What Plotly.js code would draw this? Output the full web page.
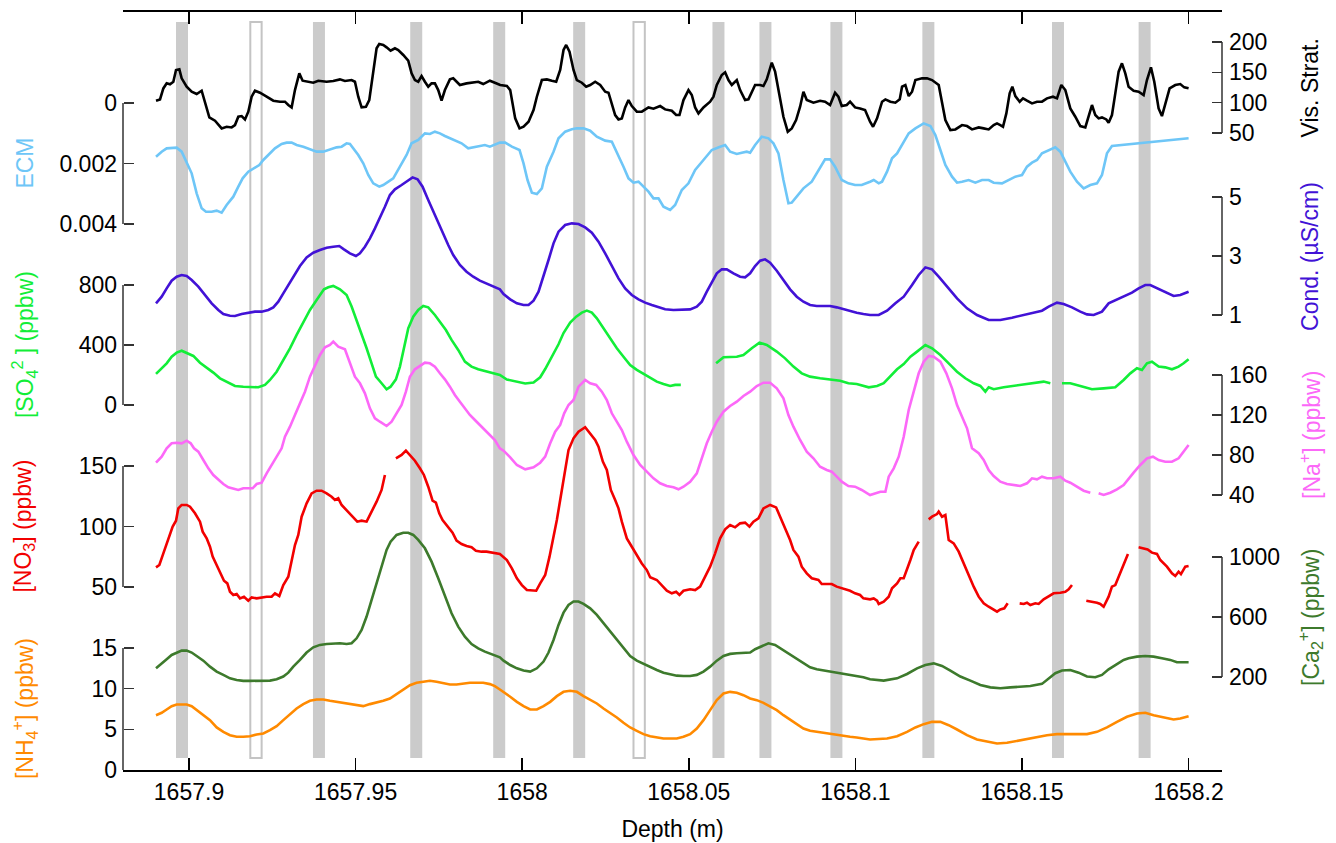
<!DOCTYPE html>
<html>
<head>
<meta charset="utf-8">
<script src="https://cdn.plot.ly/plotly-3.0.1.min.js"></script>
<style>
  html, body { margin: 0; padding: 0; background: #fff; }
  #chart { width: 1336px; height: 843px; }
</style>
</head>
<body>
<div id="chart"></div>
<script>
// ---------------------------------------------------------------------------
// Ice core section 1657.89 - 1658.20 m : stacked records, one axis per record
// every record is a list of [depth (m), value] pairs, null = no data
// ---------------------------------------------------------------------------
var depthTicks = [1657.9, 1657.95, 1658, 1658.05, 1658.1, 1658.15, 1658.2];
var depthTickText = ['1657.9', '1657.95', '1658', '1658.05', '1658.1', '1658.15', '1658.2'];

// annual layer picks (grey bands) and the two uncertain ones (open bands)
var layerDepths = [1657.8979, 1657.9390, 1657.9682, 1657.9931, 1658.0171, 1658.0589,
                   1658.0730, 1658.0943, 1658.1219, 1658.1608, 1658.1868];
var uncertainDepths = [1657.9201, 1658.0351];

var visStrat = [[1657.8901,103.2],[1657.8913,105.4],[1657.8923,123.5],[1657.8933,131.8],[1657.8943,130.2],[1657.8953,134.5],[1657.8961,153.8],[1657.8971,154.9],[1657.8978,140.1],[1657.8993,126.3],[1657.9008,118.1],[1657.9023,114.2],[1657.9038,119.7],[1657.9048,101.6],[1657.9061,75.7],[1657.9078,70.2],[1657.9098,57.6],[1657.9113,60.3],[1657.9128,59.2],[1657.9138,63.1],[1657.9148,76.8],[1657.9158,77.9],[1657.9168,72.4],[1657.9178,85.1],[1657.9188,109.8],[1657.9198,119.7],[1657.9213,116.4],[1657.9233,109.8],[1657.9253,103.2],[1657.9273,101.6],[1657.9288,101.6],[1657.9298,96.1],[1657.9308,92.2],[1657.9318,120.8],[1657.9331,148.3],[1657.9341,136.2],[1657.9358,134.5],[1657.9373,132.9],[1657.9388,136.2],[1657.9413,134.5],[1657.9433,135.7],[1657.9453,138.4],[1657.9468,135.7],[1657.9488,137.3],[1657.9498,134.5],[1657.9508,109.8],[1657.9518,92.2],[1657.9531,93.3],[1657.9541,104.3],[1657.9553,153.8],[1657.9563,189.6],[1657.9571,196.7],[1657.9583,195.1],[1657.9593,191.2],[1657.9605,185.7],[1657.9618,189.6],[1657.9628,186.8],[1657.9643,178.6],[1657.9658,169.2],[1657.9668,148.3],[1657.9678,137.3],[1657.9688,134.5],[1657.9698,143.9],[1657.9708,134.5],[1657.9718,126.3],[1657.9728,131.8],[1657.9738,131.8],[1657.9748,120.8],[1657.9758,103.2],[1657.9768,120.8],[1657.9783,138.4],[1657.9793,140.1],[1657.9803,134.5],[1657.9813,129.1],[1657.9833,131.8],[1657.9853,133.5],[1657.9868,134.5],[1657.9883,130.7],[1657.9903,136.2],[1657.9918,132.9],
  [1657.9934,129.1],[1657.9954,127.4],[1657.9964,120.8],[1657.9979,74.1],[1657.9992,57.6],[1658.0004,60.3],[1658.0019,68.6],[1658.0034,87.8],[1658.0044,109.8],[1658.0059,137.3],[1658.0074,138.4],[1658.0089,136.2],[1658.0102,134.5],[1658.0114,153.8],[1658.0124,186.8],[1658.0132,195.1],[1658.0142,184.1],[1658.0154,153.8],[1658.0164,137.3],[1658.0179,132.9],[1658.0192,126.3],[1658.0204,129.1],[1658.0219,134.5],[1658.0234,129.1],[1658.0249,118.1],[1658.0259,116.4],[1658.0269,98.8],[1658.0279,79.6],[1658.0289,72.4],[1658.0299,74.1],[1658.0309,92.2],[1658.0319,104.3],[1658.0329,94.4],[1658.0344,85.1],[1658.0359,85.1],[1658.0379,92.2],[1658.0394,90.0],[1658.0414,94.4],[1658.0429,88.9],[1658.0449,86.7],[1658.0462,79.6],[1658.0472,79.6],[1658.0484,104.3],[1658.0499,120.8],[1658.0509,112.6],[1658.0519,92.2],[1658.0529,82.3],[1658.0544,92.2],[1658.0564,101.6],[1658.0574,109.8],[1658.0584,129.1],[1658.0599,145.6],[1658.0609,150.0],[1658.0619,137.3],[1658.0629,129.1],[1658.0644,137.3],[1658.0654,120.8],[1658.0669,104.3],[1658.0679,105.4],[1658.0689,118.1],[1658.0699,129.1],[1658.0714,129.1],[1658.0724,127.4],[1658.0734,138.4],[1658.0749,165.9],[1658.0759,151.1],[1658.0769,120.8],[1658.0784,76.8],[1658.0797,52.1],[1658.0809,57.6],[1658.0822,71.3],[1658.0834,93.3],[1658.0844,118.1],[1658.0854,104.3],[1658.0874,99.9],[1658.0894,103.2],[1658.0909,101.6],[1658.0924,96.1],[1658.0939,116.4],[1658.0949,109.8],[1658.0959,94.4],[1658.0974,96.1],[1658.0984,101.6],[1658.0999,92.2],[1658.1014,90.5],[1658.1029,87.8],[1658.1044,68.6],
  [1658.1053,60.3],[1658.1065,74.1],[1658.1080,101.6],[1658.1090,105.4],[1658.1105,101.6],[1658.1120,99.9],[1658.1133,105.4],[1658.1140,126.3],[1658.1150,129.1],[1658.1160,110.9],[1658.1170,118.1],[1658.1180,137.3],[1658.1200,140.1],[1658.1215,140.1],[1658.1230,137.3],[1658.1250,129.1],[1658.1260,98.8],[1658.1270,71.3],[1658.1285,54.8],[1658.1300,55.9],[1658.1320,63.1],[1658.1335,61.4],[1658.1350,55.9],[1658.1370,59.2],[1658.1385,57.6],[1658.1400,55.9],[1658.1415,63.1],[1658.1425,65.8],[1658.1435,63.1],[1658.1443,60.3],[1658.1453,82.3],[1658.1463,115.3],[1658.1471,126.3],[1658.1480,110.9],[1658.1493,101.6],[1658.1503,107.1],[1658.1515,103.2],[1658.1530,98.8],[1658.1545,101.6],[1658.1560,101.6],[1658.1575,107.1],[1658.1593,109.8],[1658.1605,107.1],[1658.1618,129.1],[1658.1630,120.8],[1658.1645,90.5],[1658.1660,76.8],[1658.1675,61.4],[1658.1690,59.2],[1658.1700,76.8],[1658.1710,96.1],[1658.1720,79.6],[1658.1730,74.1],[1658.1740,75.7],[1658.1753,72.4],[1658.1760,66.9],[1658.1770,79.6],[1658.1780,115.3],[1658.1790,151.1],[1658.1800,164.8],[1658.1810,148.3],[1658.1820,126.3],[1658.1835,119.7],[1658.1850,118.1],[1658.1865,112.6],[1658.1875,137.3],[1658.1887,158.2],[1658.1897,134.5],[1658.1910,90.5],[1658.1920,77.9],[1658.1930,98.8],[1658.1943,123.6],[1658.1960,129.1],[1658.1975,130.7],[1658.1987,125.2],[1658.2000,123.6]];

var ecm = [[1657.8901,1.774e-3],[1657.8918,1.609e-3],[1657.8933,1.499e-3],[1657.8948,1.499e-3],[1657.8963,1.477e-3],[1657.8978,1.609e-3],[1657.8993,1.940e-3],[1657.9008,2.325e-3],[1657.9023,2.986e-3],[1657.9038,3.482e-3],[1657.9051,3.593e-3],[1657.9068,3.593e-3],[1657.9083,3.559e-3],[1657.9098,3.626e-3],[1657.9113,3.372e-3],[1657.9133,3.097e-3],[1657.9148,2.766e-3],[1657.9161,2.491e-3],[1657.9178,2.270e-3],[1657.9193,2.160e-3],[1657.9211,2.050e-3],[1657.9223,1.884e-3],[1657.9238,1.719e-3],[1657.9258,1.499e-3],[1657.9278,1.355e-3],[1657.9293,1.311e-3],[1657.9308,1.311e-3],[1657.9323,1.389e-3],[1657.9343,1.444e-3],[1657.9363,1.532e-3],[1657.9383,1.609e-3],[1657.9403,1.609e-3],[1657.9423,1.532e-3],[1657.9443,1.466e-3],[1657.9458,1.444e-3],[1657.9473,1.333e-3],[1657.9483,1.355e-3],[1657.9493,1.499e-3],[1657.9508,1.719e-3],[1657.9523,1.995e-3],[1657.9538,2.380e-3],[1657.9553,2.656e-3],[1657.9571,2.766e-3],[1657.9583,2.711e-3],[1657.9598,2.601e-3],[1657.9613,2.491e-3],[1657.9633,2.105e-3],[1657.9653,1.719e-3],[1657.9668,1.333e-3],[1657.9688,1.223e-3],[1657.9708,1.003e-3],[1657.9723,1.025e-3],[1657.9738,0.948e-3],[1657.9753,1.003e-3],[1657.9768,1.091e-3],[1657.9783,1.168e-3],[1657.9798,1.245e-3],[1657.9818,1.333e-3],[1657.9838,1.499e-3],[1657.9853,1.466e-3],[1657.9873,1.444e-3],[1657.9888,1.389e-3],[1657.9903,1.444e-3],[1657.9918,1.389e-3],[1657.9933,1.311e-3],
  [1657.9949,1.311e-3],[1657.9969,1.444e-3],[1657.9992,1.554e-3],[1658.0004,1.995e-3],[1658.0016,2.546e-3],[1658.0029,2.964e-3],[1658.0044,3.008e-3],[1658.0059,2.821e-3],[1658.0074,2.105e-3],[1658.0094,1.609e-3],[1658.0109,1.168e-3],[1658.0129,0.948e-3],[1658.0149,0.871e-3],[1658.0164,0.838e-3],[1658.0184,0.838e-3],[1658.0204,0.915e-3],[1658.0224,1.113e-3],[1658.0249,1.245e-3],[1658.0269,1.278e-3],[1658.0284,1.609e-3],[1658.0304,2.105e-3],[1658.0319,2.491e-3],[1658.0334,2.634e-3],[1658.0349,2.601e-3],[1658.0364,2.766e-3],[1658.0379,2.931e-3],[1658.0394,3.152e-3],[1658.0409,3.152e-3],[1658.0424,3.427e-3],[1658.0444,3.537e-3],[1658.0459,3.372e-3],[1658.0479,2.876e-3],[1658.0499,2.656e-3],[1658.0519,2.215e-3],[1658.0544,1.884e-3],[1658.0569,1.554e-3],[1658.0594,1.444e-3],[1658.0609,1.389e-3],[1658.0624,1.609e-3],[1658.0644,1.686e-3],[1658.0659,1.642e-3],[1658.0674,1.609e-3],[1658.0684,1.642e-3],[1658.0699,1.389e-3],[1658.0719,1.113e-3],[1658.0739,1.168e-3],[1658.0754,1.333e-3],[1658.0769,1.664e-3],[1658.0784,2.546e-3],[1658.0799,3.317e-3],[1658.0809,3.295e-3],[1658.0824,3.097e-3],[1658.0844,2.821e-3],[1658.0869,2.601e-3],[1658.0889,2.215e-3],[1658.0909,1.862e-3],[1658.0924,1.862e-3],[1658.0939,2.105e-3],[1658.0959,2.546e-3],[1658.0979,2.656e-3],[1658.0999,2.711e-3],[1658.1019,2.711e-3],[1658.1044,2.601e-3],
  [1658.1055,2.546e-3],[1658.1070,2.656e-3],[1658.1080,2.601e-3],[1658.1095,2.270e-3],[1658.1110,1.829e-3],[1658.1125,1.664e-3],[1658.1140,1.389e-3],[1658.1160,1.003e-3],[1658.1180,0.838e-3],[1658.1205,0.672e-3],[1658.1225,0.760e-3],[1658.1240,1.058e-3],[1658.1255,1.554e-3],[1658.1270,2.050e-3],[1658.1290,2.435e-3],[1658.1305,2.634e-3],[1658.1320,2.601e-3],[1658.1340,2.546e-3],[1658.1360,2.634e-3],[1658.1380,2.546e-3],[1658.1400,2.546e-3],[1658.1415,2.634e-3],[1658.1440,2.656e-3],[1658.1460,2.546e-3],[1658.1480,2.435e-3],[1658.1500,2.380e-3],[1658.1515,2.105e-3],[1658.1530,1.973e-3],[1658.1545,1.884e-3],[1658.1560,1.664e-3],[1658.1580,1.554e-3],[1658.1600,1.466e-3],[1658.1615,1.609e-3],[1658.1630,1.940e-3],[1658.1645,2.270e-3],[1658.1665,2.601e-3],[1658.1685,2.821e-3],[1658.1705,2.711e-3],[1658.1725,2.656e-3],[1658.1740,2.380e-3],[1658.1755,1.664e-3],[1658.1770,1.422e-3],[1658.2000,1.168e-3]];

var conductivity = [[1657.8901,1.395],[1657.8918,1.621],[1657.8933,1.903],[1657.8948,2.163],[1657.8963,2.299],[1657.8978,2.356],[1657.8993,2.322],[1657.9008,2.186],[1657.9028,1.960],[1657.9048,1.678],[1657.9068,1.395],[1657.9088,1.169],[1657.9103,1.033],[1657.9123,0.977],[1657.9138,0.966],[1657.9158,1.033],[1657.9178,1.079],[1657.9198,1.113],[1657.9218,1.113],[1657.9238,1.169],[1657.9253,1.259],[1657.9268,1.451],[1657.9283,1.734],[1657.9298,2.016],[1657.9313,2.322],[1657.9333,2.661],[1657.9353,2.954],[1657.9373,3.113],[1657.9393,3.203],[1657.9413,3.282],[1657.9433,3.316],[1657.9451,3.339],[1657.9465,3.226],[1657.9483,3.090],[1657.9501,3.000],[1657.9513,3.090],[1657.9528,3.316],[1657.9543,3.598],[1657.9558,3.937],[1657.9573,4.276],[1657.9588,4.672],[1657.9603,5.067],[1657.9618,5.260],[1657.9638,5.406],[1657.9653,5.519],[1657.9671,5.666],[1657.9686,5.599],[1657.9701,5.350],[1657.9718,4.898],[1657.9733,4.502],[1657.9748,4.107],[1657.9763,3.768],[1657.9778,3.372],[1657.9793,3.033],[1657.9813,2.694],[1657.9833,2.468],[1657.9853,2.299],[1657.9873,2.163],[1657.9893,2.073],[1657.9913,1.983],[1657.9933,1.870],
  [1657.9944,1.711],[1657.9964,1.531],[1657.9984,1.395],[1658.0004,1.338],[1658.0019,1.338],[1658.0034,1.485],[1658.0049,1.790],[1658.0064,2.299],[1658.0079,2.864],[1658.0094,3.429],[1658.0109,3.824],[1658.0129,4.050],[1658.0149,4.107],[1658.0169,4.084],[1658.0189,3.971],[1658.0209,3.791],[1658.0229,3.485],[1658.0249,3.090],[1658.0269,2.638],[1658.0289,2.242],[1658.0309,1.903],[1658.0329,1.678],[1658.0349,1.531],[1658.0369,1.418],[1658.0389,1.338],[1658.0409,1.259],[1658.0429,1.192],[1658.0454,1.169],[1658.0479,1.169],[1658.0504,1.192],[1658.0524,1.282],[1658.0539,1.451],[1658.0554,1.790],[1658.0569,2.129],[1658.0584,2.412],[1658.0599,2.548],[1658.0614,2.548],[1658.0634,2.412],[1658.0654,2.299],[1658.0669,2.276],[1658.0684,2.412],[1658.0699,2.661],[1658.0714,2.841],[1658.0729,2.887],[1658.0744,2.774],[1658.0764,2.502],[1658.0784,2.186],[1658.0804,1.870],[1658.0824,1.621],[1658.0844,1.451],[1658.0864,1.338],[1658.0884,1.305],[1658.0904,1.305],[1658.0924,1.305],[1658.0944,1.259],[1658.0964,1.192],[1658.0984,1.146],[1658.1004,1.079],[1658.1024,1.033],[1658.1044,1.000],
  [1658.1070,1.000],[1658.1095,1.146],[1658.1120,1.395],[1658.1145,1.621],[1658.1170,2.016],[1658.1190,2.356],[1658.1210,2.615],[1658.1230,2.548],[1658.1250,2.299],[1658.1275,1.960],[1658.1305,1.564],[1658.1335,1.225],[1658.1365,1.000],[1658.1400,0.830],[1658.1435,0.830],[1658.1470,0.909],[1658.1505,1.000],[1658.1535,1.056],[1658.1560,1.146],[1658.1580,1.282],[1658.1605,1.418],[1658.1625,1.372],[1658.1650,1.259],[1658.1675,1.113],[1658.1695,1.022],[1658.1715,1.000],[1658.1740,1.113],[1658.1760,1.395],[1658.1785,1.531],[1658.1810,1.644],[1658.1830,1.757],[1658.1850,1.903],[1658.1870,2.016],[1658.1885,2.016],[1658.1905,1.903],[1658.1930,1.757],[1658.1955,1.644],[1658.1975,1.678],[1658.2000,1.790]];

var sulfate = [[1657.8901,207],[1657.8918,245],[1657.8933,278],[1657.8948,322],[1657.8963,349],[1657.8978,362],[1657.8993,349],[1657.9013,327],[1657.9033,282],[1657.9053,251],[1657.9073,216],[1657.9093,178],[1657.9113,156],[1657.9138,127],[1657.9163,122],[1657.9188,122],[1657.9208,118],[1657.9228,134],[1657.9243,167],[1657.9263,222],[1657.9283,300],[1657.9303,378],[1657.9323,467],[1657.9343,556],[1657.9363,634],[1657.9383,700],[1657.9405,771],[1657.9418,785],[1657.9433,794],[1657.9453,771],[1657.9473,733],[1657.9488,656],[1657.9503,567],[1657.9518,467],[1657.9533,378],[1657.9548,278],[1657.9561,189],[1657.9578,145],[1657.9593,105],[1657.9605,122],[1657.9621,171],[1657.9633,256],[1657.9645,378],[1657.9658,511],[1657.9673,589],[1657.9688,634],[1657.9703,660],[1657.9718,651],[1657.9738,600],[1657.9753,556],[1657.9771,500],[1657.9788,434],[1657.9808,367],[1657.9828,289],[1657.9848,256],[1657.9868,238],[1657.9893,222],[1657.9913,211],[1657.9933,200],
  [1657.9954,170],[1657.9984,155],[1658.0009,143],[1658.0034,150],[1658.0054,185],[1658.0069,240],[1658.0089,320],[1658.0109,405],[1658.0124,480],[1658.0144,550],[1658.0162,589],[1658.0179,616],[1658.0194,629],[1658.0209,616],[1658.0224,578],[1658.0244,511],[1658.0264,445],[1658.0284,378],[1658.0304,322],[1658.0324,267],[1658.0344,234],[1658.0364,207],[1658.0384,178],[1658.0404,156],[1658.0424,140],[1658.0444,127],[1658.0459,134],[1658.0476,134],[1658.0520,null],
  [1658.0582,278],[1658.0604,318],[1658.0644,322],[1658.0664,333],[1658.0689,378],[1658.0712,416],[1658.0734,400],[1658.0764,356],[1658.0789,311],[1658.0814,256],[1658.0839,211],[1658.0864,189],[1658.0894,178],[1658.0924,171],[1658.0954,162],[1658.0979,145],[1658.1004,140],
  [1658.1040,118],[1658.1065,127],[1658.1085,145],[1658.1105,189],[1658.1125,238],[1658.1145,273],[1658.1165,322],[1658.1185,356],[1658.1210,400],[1658.1230,378],[1658.1255,333],[1658.1280,278],[1658.1305,222],[1658.1330,178],[1658.1355,145],[1658.1375,127],[1658.1390,89],[1658.1400,118],[1658.1415,105],[1658.1445,118],[1658.1475,127],[1658.1505,140],[1658.1535,149],[1658.1565,156],[1658.1585,145],[1658.1600,null],[1658.1620,145],[1658.1645,145],[1658.1675,127],[1658.1710,105],[1658.1745,111],[1658.1780,118],[1658.1805,167],[1658.1825,211],[1658.1845,245],[1658.1860,233],[1658.1875,278],[1658.1890,289],[1658.1910,256],[1658.1930,251],[1658.1950,238],[1658.1970,256],[1658.1985,278],[1658.2000,305]];

var sodium = [[1657.8901,72.3],[1657.8918,78.3],[1657.8933,86.7],[1657.8948,91.7],[1657.8963,92.3],[1657.8978,91.7],[1657.8993,94.3],[1657.9005,91.7],[1657.9015,86.7],[1657.9028,83.3],[1657.9043,75.0],[1657.9058,66.7],[1657.9073,60.0],[1657.9088,55.7],[1657.9103,51.0],[1657.9118,47.7],[1657.9133,46.7],[1657.9148,45.0],[1657.9163,46.7],[1657.9178,46.7],[1657.9191,46.7],[1657.9203,51.0],[1657.9218,52.3],[1657.9233,61.7],[1657.9248,70.0],[1657.9263,78.3],[1657.9278,86.7],[1657.9288,98.3],[1657.9303,108.3],[1657.9318,120.0],[1657.9333,131.7],[1657.9348,143.3],[1657.9363,158.3],[1657.9378,170.0],[1657.9393,180.0],[1657.9408,187.7],[1657.9423,190.0],[1657.9433,193.3],[1657.9448,188.3],[1657.9468,185.7],[1657.9483,171.7],[1657.9498,158.3],[1657.9513,151.7],[1657.9528,141.7],[1657.9543,126.7],[1657.9558,116.7],[1657.9573,113.3],[1657.9593,109.0],[1657.9608,113.3],[1657.9623,121.7],[1657.9638,130.0],[1657.9651,143.3],[1657.9663,158.3],[1657.9678,165.7],[1657.9693,169.0],[1657.9708,172.3],[1657.9723,171.7],[1657.9738,168.3],[1657.9753,161.7],[1657.9768,155.7],[1657.9783,148.3],[1657.9798,140.0],[1657.9813,133.3],[1657.9828,126.7],[1657.9843,120.0],[1657.9858,115.0],[1657.9873,110.0],[1657.9888,105.0],[1657.9903,99.0],[1657.9918,95.0],[1657.9933,86.7],
  [1657.9944,84.3],[1657.9964,77.7],[1657.9984,70.0],[1658.0009,65.7],[1658.0034,67.7],[1658.0054,72.3],[1658.0069,78.3],[1658.0084,91.7],[1658.0099,103.3],[1658.0114,110.0],[1658.0126,121.7],[1658.0139,130.0],[1658.0154,135.0],[1658.0169,148.3],[1658.0189,155.0],[1658.0204,151.7],[1658.0222,150.0],[1658.0239,143.3],[1658.0254,135.0],[1658.0269,121.7],[1658.0284,113.3],[1658.0299,105.0],[1658.0314,93.3],[1658.0334,80.0],[1658.0354,70.0],[1658.0374,63.3],[1658.0394,56.7],[1658.0414,51.7],[1658.0434,49.0],[1658.0454,47.7],[1658.0469,45.7],[1658.0484,48.3],[1658.0504,53.3],[1658.0524,61.7],[1658.0539,76.7],[1658.0554,91.7],[1658.0569,103.3],[1658.0584,113.3],[1658.0604,123.3],[1658.0624,129.0],[1658.0644,133.3],[1658.0664,139.0],[1658.0684,143.3],[1658.0704,149.0],[1658.0724,152.3],[1658.0744,152.3],[1658.0764,146.7],[1658.0784,136.7],[1658.0799,120.0],[1658.0814,108.3],[1658.0834,95.0],[1658.0854,83.3],[1658.0874,76.7],[1658.0894,68.3],[1658.0914,65.0],[1658.0929,63.3],[1658.0944,58.3],[1658.0959,53.3],[1658.0979,49.0],[1658.0999,48.3],[1658.1019,45.0],[1658.1044,40.0],
  [1658.1075,43.3],[1658.1090,43.3],[1658.1100,58.3],[1658.1115,66.7],[1658.1130,78.3],[1658.1145,98.3],[1658.1160,125.0],[1658.1175,143.3],[1658.1190,161.7],[1658.1205,173.3],[1658.1220,179.0],[1658.1235,178.3],[1658.1255,173.3],[1658.1273,161.7],[1658.1290,146.7],[1658.1305,130.0],[1658.1320,118.3],[1658.1335,106.7],[1658.1350,86.7],[1658.1370,81.7],[1658.1385,75.0],[1658.1400,65.0],[1658.1415,59.0],[1658.1435,53.3],[1658.1455,51.0],[1658.1475,50.0],[1658.1495,49.0],[1658.1515,51.7],[1658.1530,56.7],[1658.1545,55.7],[1658.1560,58.3],[1658.1575,56.7],[1658.1595,56.7],[1658.1615,58.3],[1658.1630,54.3],[1658.1645,52.3],[1658.1665,48.3],[1658.1685,44.3],[1658.1705,42.3],[1658.1718,null],[1658.1730,41.7],[1658.1745,40.0],[1658.1765,42.3],[1658.1785,45.7],[1658.1805,50.0],[1658.1820,56.7],[1658.1835,62.3],[1658.1855,70.0],[1658.1875,76.7],[1658.1893,78.3],[1658.1910,75.0],[1658.1930,73.3],[1658.1950,73.3],[1658.1970,76.7],[1658.1985,83.3],[1658.2000,90.0]];

var nitrate = [[1657.8901,66.2],[1657.8911,68.2],[1657.8923,77.8],[1657.8938,90.2],[1657.8951,99.9],[1657.8961,104.8],[1657.8968,115.0],[1657.8978,117.8],[1657.8993,117.8],[1657.9003,116.4],[1657.9018,110.9],[1657.9033,104.0],[1657.9041,95.7],[1657.9053,90.2],[1657.9063,83.3],[1657.9071,75.1],[1657.9083,68.2],[1657.9093,61.3],[1657.9105,55.2],[1657.9115,53.0],[1657.9123,46.1],[1657.9133,43.4],[1657.9143,44.2],[1657.9153,40.6],[1657.9165,42.0],[1657.9178,38.7],[1657.9188,41.4],[1657.9203,40.6],[1657.9218,41.4],[1657.9233,42.0],[1657.9248,42.0],[1657.9258,44.8],[1657.9271,42.6],[1657.9283,51.6],[1657.9298,58.5],[1657.9308,70.9],[1657.9318,84.7],[1657.9328,93.0],[1657.9338,108.1],[1657.9353,119.1],[1657.9368,127.4],[1657.9383,129.6],[1657.9398,129.6],[1657.9413,127.4],[1657.9428,124.6],[1657.9438,121.9],[1657.9448,123.3],[1657.9458,117.8],[1657.9473,113.6],[1657.9488,108.7],[1657.9505,104.0],[1657.9518,104.8],[1657.9533,104.0],[1657.9548,112.3],[1657.9563,120.5],[1657.9578,130.2],[1657.9588,142.6],[1657.9605,null],[1657.9621,156.3],[1657.9638,159.1],[1657.9651,162.7],[1657.9663,159.1],[1657.9678,154.4],[1657.9693,148.1],[1657.9705,142.6],[1657.9718,132.9],[1657.9731,121.3],[1657.9741,119.7],[1657.9751,110.9],[1657.9761,105.4],[1657.9778,99.9],[1657.9791,94.9],[1657.9803,88.3],[1657.9818,85.5],[1657.9833,83.9],[1657.9848,82.8],[1657.9861,80.0],[1657.9878,79.2],[1657.9893,79.2],[1657.9913,78.4],[1657.9933,77.3],
  [1657.9954,72.3],[1657.9969,65.4],[1657.9984,57.2],[1657.9999,51.6],[1658.0014,47.5],[1658.0029,46.9],[1658.0042,46.9],[1658.0054,53.0],[1658.0069,59.9],[1658.0082,75.1],[1658.0094,90.2],[1658.0104,105.4],[1658.0114,121.9],[1658.0124,138.4],[1658.0139,163.2],[1658.0154,172.9],[1658.0169,178.4],[1658.0189,182.0],[1658.0204,177.0],[1658.0219,171.5],[1658.0229,166.0],[1658.0242,153.6],[1658.0254,146.7],[1658.0266,130.2],[1658.0279,121.9],[1658.0289,115.0],[1658.0299,104.0],[1658.0314,90.2],[1658.0329,83.3],[1658.0344,76.4],[1658.0359,69.5],[1658.0374,64.0],[1658.0384,58.0],[1658.0404,55.8],[1658.0419,51.6],[1658.0434,46.9],[1658.0449,44.8],[1658.0462,46.1],[1658.0472,43.4],[1658.0484,46.9],[1658.0504,48.1],[1658.0519,47.5],[1658.0534,50.3],[1658.0549,58.5],[1658.0564,66.8],[1658.0579,77.8],[1658.0594,90.2],[1658.0609,97.7],[1658.0624,101.2],[1658.0639,99.3],[1658.0654,102.6],[1658.0669,103.2],[1658.0682,99.9],[1658.0694,104.0],[1658.0709,106.7],[1658.0724,115.0],[1658.0744,117.8],[1658.0762,115.8],[1658.0774,108.1],[1658.0789,99.9],[1658.0804,88.8],[1658.0814,80.6],[1658.0829,75.1],[1658.0839,66.8],[1658.0854,61.3],[1658.0869,57.2],[1658.0889,55.8],[1658.0899,52.5],[1658.0914,52.5],[1658.0929,52.5],[1658.0944,50.3],[1658.0964,48.9],[1658.0984,46.9],[1658.0999,44.8],[1658.1014,43.4],[1658.1024,40.6],[1658.1044,39.8],
  [1658.1055,40.6],[1658.1065,38.7],[1658.1070,36.0],[1658.1085,37.9],[1658.1100,42.0],[1658.1110,48.9],[1658.1125,53.0],[1658.1135,57.2],[1658.1145,57.2],[1658.1155,64.0],[1658.1165,72.3],[1658.1175,80.6],[1658.1190,87.5],[1658.1205,null],[1658.1220,105.9],[1658.1230,108.1],[1658.1245,110.3],[1658.1250,112.3],[1658.1260,108.1],[1658.1270,109.5],[1658.1280,88.8],[1658.1295,86.1],[1658.1310,79.2],[1658.1325,69.5],[1658.1340,61.3],[1658.1355,50.3],[1658.1370,42.0],[1658.1385,36.5],[1658.1400,33.7],[1658.1415,31.0],[1658.1425,29.6],[1658.1435,31.5],[1658.1447,32.4],[1658.1457,36.5],[1658.1475,null],[1658.1493,36.5],[1658.1505,36.0],[1658.1515,37.0],[1658.1525,35.1],[1658.1540,36.5],[1658.1550,36.0],[1658.1565,39.8],[1658.1580,42.0],[1658.1595,44.8],[1658.1615,45.3],[1658.1630,46.1],[1658.1640,48.1],[1658.1650,51.6],[1658.1670,null],[1658.1693,38.7],[1658.1710,37.9],[1658.1725,37.0],[1658.1735,36.0],[1658.1745,33.7],[1658.1760,42.0],[1658.1770,50.3],[1658.1780,51.6],[1658.1790,58.5],[1658.1805,69.5],[1658.1818,77.3],[1658.1835,null],[1658.1850,82.8],[1658.1865,82.0],[1658.1877,81.1],[1658.1890,78.4],[1658.1905,77.3],[1658.1915,72.3],[1658.1925,69.5],[1658.1935,66.8],[1658.1950,61.3],[1658.1960,59.1],[1658.1970,62.7],[1658.1977,60.7],[1658.1990,66.8],[1658.2000,67.4]];

var calcium = [[1657.8901,258],[1657.8918,287],[1657.8933,318],[1657.8948,347],[1657.8963,363],[1657.8978,376],[1657.8993,376],[1657.9008,363],[1657.9023,340],[1657.9043,309],[1657.9063,269],[1657.9083,236],[1657.9103,214],[1657.9123,191],[1657.9143,180],[1657.9163,174],[1657.9183,174],[1657.9203,174],[1657.9223,174],[1657.9243,176],[1657.9263,185],[1657.9283,203],[1657.9298,229],[1657.9313,269],[1657.9333,314],[1657.9353,363],[1657.9373,398],[1657.9393,414],[1657.9413,420],[1657.9433,425],[1657.9453,425],[1657.9473,420],[1657.9488,425],[1657.9503,458],[1657.9518,514],[1657.9533,603],[1657.9548,714],[1657.9563,836],[1657.9578,936],[1657.9593,1047],[1657.9605,1102],[1657.9623,1147],[1657.9643,1162],[1657.9658,1162],[1657.9673,1147],[1657.9688,1114],[1657.9708,1058],[1657.9728,969],[1657.9748,858],[1657.9768,736],[1657.9788,625],[1657.9808,536],[1657.9828,469],[1657.9848,420],[1657.9868,391],[1657.9888,369],[1657.9913,347],[1657.9933,331],
  [1657.9944,309],[1657.9964,280],[1657.9984,258],[1658.0004,243],[1658.0024,236],[1658.0044,258],[1658.0064,303],[1658.0079,363],[1658.0094,447],[1658.0109,547],[1658.0124,629],[1658.0139,680],[1658.0154,703],[1658.0169,703],[1658.0184,687],[1658.0204,658],[1658.0224,614],[1658.0244,558],[1658.0264,503],[1658.0284,447],[1658.0304,391],[1658.0324,340],[1658.0344,309],[1658.0364,287],[1658.0384,265],[1658.0404,247],[1658.0424,229],[1658.0444,218],[1658.0464,209],[1658.0484,207],[1658.0504,207],[1658.0524,214],[1658.0544,236],[1658.0564,269],[1658.0584,309],[1658.0604,340],[1658.0624,354],[1658.0644,358],[1658.0664,358],[1658.0684,363],[1658.0699,385],[1658.0719,407],[1658.0739,425],[1658.0759,414],[1658.0779,385],[1658.0799,354],[1658.0819,325],[1658.0839,296],[1658.0864,265],[1658.0884,251],[1658.0904,243],[1658.0924,236],[1658.0949,229],[1658.0974,220],[1658.0999,207],[1658.1024,198],[1658.1044,185],
  [1658.1085,176],[1658.1125,191],[1658.1155,220],[1658.1185,258],[1658.1210,280],[1658.1235,291],[1658.1260,274],[1658.1285,243],[1658.1315,203],[1658.1345,176],[1658.1375,147],[1658.1405,131],[1658.1435,125],[1658.1465,131],[1658.1495,136],[1658.1525,140],[1658.1560,154],[1658.1580,191],[1658.1600,225],[1658.1620,243],[1658.1645,247],[1658.1670,229],[1658.1695,203],[1658.1720,198],[1658.1740,214],[1658.1760,251],[1658.1785,287],[1658.1805,314],[1658.1820,325],[1658.1845,336],[1658.1870,340],[1658.1895,336],[1658.1920,325],[1658.1945,314],[1658.1965,298],[1658.1985,296],[1658.2000,298]];

var ammonium = [[1657.8901,6.74],[1657.8918,7.03],[1657.8933,7.44],[1657.8948,7.85],[1657.8963,8.06],[1657.8978,8.10],[1657.8993,8.06],[1657.9008,7.85],[1657.9023,7.36],[1657.9043,6.74],[1657.9063,6.13],[1657.9083,5.23],[1657.9103,4.69],[1657.9123,4.28],[1657.9143,4.08],[1657.9163,4.08],[1657.9183,4.16],[1657.9203,4.37],[1657.9223,4.49],[1657.9243,4.90],[1657.9263,5.39],[1657.9283,6.13],[1657.9303,6.87],[1657.9323,7.56],[1657.9343,8.10],[1657.9363,8.51],[1657.9383,8.67],[1657.9403,8.67],[1657.9423,8.51],[1657.9443,8.38],[1657.9463,8.26],[1657.9483,8.10],[1657.9503,7.97],[1657.9523,7.85],[1657.9543,8.10],[1657.9563,8.26],[1657.9583,8.51],[1657.9603,8.79],[1657.9623,9.33],[1657.9643,9.82],[1657.9663,10.43],[1657.9683,10.72],[1657.9703,10.84],[1657.9723,10.97],[1657.9743,10.84],[1657.9763,10.64],[1657.9783,10.52],[1657.9803,10.52],[1657.9823,10.64],[1657.9843,10.72],[1657.9863,10.72],[1657.9883,10.72],[1657.9903,10.56],[1657.9918,10.31],[1657.9933,9.90],
  [1657.9944,9.61],[1657.9964,9.00],[1657.9984,8.38],[1658.0004,7.85],[1658.0024,7.44],[1658.0044,7.44],[1658.0064,7.85],[1658.0084,8.38],[1658.0104,9.08],[1658.0124,9.61],[1658.0144,9.74],[1658.0164,9.61],[1658.0184,9.08],[1658.0204,8.67],[1658.0224,8.18],[1658.0244,7.56],[1658.0264,7.03],[1658.0284,6.46],[1658.0304,5.80],[1658.0324,5.23],[1658.0344,4.82],[1658.0364,4.41],[1658.0384,4.16],[1658.0404,4.00],[1658.0424,3.87],[1658.0444,3.87],[1658.0464,3.87],[1658.0484,4.08],[1658.0504,4.41],[1658.0524,5.10],[1658.0544,6.13],[1658.0564,7.36],[1658.0584,8.59],[1658.0604,9.41],[1658.0624,9.61],[1658.0644,9.49],[1658.0664,9.20],[1658.0684,8.79],[1658.0704,8.59],[1658.0724,8.26],[1658.0744,7.85],[1658.0764,7.36],[1658.0784,6.74],[1658.0804,6.21],[1658.0824,5.64],[1658.0844,5.10],[1658.0864,4.82],[1658.0884,4.69],[1658.0904,4.57],[1658.0924,4.41],[1658.0944,4.28],[1658.0964,4.16],[1658.0984,4.08],[1658.1004,4.00],[1658.1024,3.87],[1658.1044,3.75],
  [1658.1095,3.87],[1658.1125,4.16],[1658.1155,4.69],[1658.1180,5.23],[1658.1205,5.64],[1658.1230,5.92],[1658.1255,5.92],[1658.1280,5.51],[1658.1305,4.98],[1658.1335,4.28],[1658.1365,3.75],[1658.1395,3.46],[1658.1425,3.26],[1658.1455,3.34],[1658.1485,3.59],[1658.1515,3.87],[1658.1545,4.08],[1658.1575,4.28],[1658.1605,4.41],[1658.1635,4.41],[1658.1665,4.41],[1658.1695,4.41],[1658.1725,4.69],[1658.1755,5.23],[1658.1785,5.92],[1658.1815,6.54],[1658.1845,6.95],[1658.1870,7.03],[1658.1895,6.74],[1658.1925,6.46],[1658.1955,6.21],[1658.1975,6.33],[1658.2000,6.62]];

//------------------------------------------------------------------------------
// layout helpers
//------------------------------------------------------------------------------
var FONT = 'Liberation Sans, Arial, Helvetica, sans-serif';
var TICK_SIZE = 23, TITLE_SIZE = 23;
var PLOT_TOP = 12, PLOT_BOTTOM = 770;   // page px of the plot area
var PLOT_LEFT = 123, PLOT_RIGHT = 1222;

// axis range so that value v1 lands on page row p1 and v2 on row p2
function span(v1, p1, v2, p2) {
  var k = (v2 - v1) / (p2 - p1);
  return [v1 + (PLOT_BOTTOM - p1) * k, v1 + (PLOT_TOP - p1) * k];
}
function xspan(v1, p1, v2, p2) {
  var k = (v2 - v1) / (p2 - p1);
  return [v1 + (PLOT_LEFT - p1) * k, v1 + (PLOT_RIGHT - p1) * k];
}

function col(a, i) { return a.map(function (p) { return p[i]; }); }

function yAxis(side, range, vals, text) {
  return {
    overlaying: 'y', anchor: 'free', position: side === 'left' ? 0 : 1, side: side,
    range: range, tickvals: vals, ticktext: text,
    ticks: 'inside', ticklen: 10, tickwidth: 1.5, tickcolor: '#333',
    ticklabelstandoff: 6,
    showgrid: false, zeroline: false, showline: false, fixedrange: true,
    tickfont: { family: FONT, size: TICK_SIZE, color: '#000' }
  };
}

var records = [
  { d: visStrat,     ax: 'y5', c: '#000000', side: 'right', r: span(50, 133, 200, 42),
    tv: [50, 100, 150, 200], tt: ['50', '100', '150', '200'], t: 'Vis. Strat.', tc: 125 },
  { d: ecm,          ax: 'y2', c: '#6ec6f7', side: 'left', r: span(0, 103, 0.004, 224),
    tv: [0, 0.002, 0.004], tt: ['0', '0.002', '0.004'], t: 'ECM', tc: 0.002 },
  { d: conductivity, ax: 'y6', c: '#4212d6', side: 'right', r: span(1, 315, 5, 197),
    tv: [1, 3, 5], tt: ['1', '3', '5'], t: 'Cond. (\u00b5S/cm)', tc: 3 },
  { d: sulfate,      ax: 'y3', c: '#12ee38', side: 'left', r: span(0, 405, 800, 285),
    tv: [0, 400, 800], tt: ['0', '400', '800'], t: '[SO<sub>4</sub><sup>2</sup> ] (ppbw)', tc: 400 },
  { d: sodium,       ax: 'y7', c: '#fc68f8', side: 'right', r: span(40, 495, 160, 375),
    tv: [40, 80, 120, 160], tt: ['40', '80', '120', '160'], t: '[Na<sup>+</sup>] (ppbw)', tc: 100 },
  { d: nitrate,      ax: 'y4', c: '#f20000', side: 'left', r: span(50, 587, 150, 466),
    tv: [50, 100, 150], tt: ['50', '100', '150'], t: '[NO<sub>3</sub>] (ppbw)', tc: 100 },
  { d: calcium,      ax: 'y8', c: '#3d7a2c', side: 'right', r: span(200, 677, 1000, 557),
    tv: [200, 600, 1000], tt: ['200', '600', '1000'], t: '[Ca<sub>2</sub><sup>+</sup>] (ppbw)', tc: 600 },
  { d: ammonium,     ax: 'y',  c: '#ff8a00', side: 'left', r: span(0, 770, 15, 648),
    tv: [0, 5, 10, 15], tt: ['0', '5', '10', '15'], t: '[NH<sub>4</sub><sup>+</sup>] (ppbw)', tc: 7.5 }
];

var data = [];
var shapes = [];
var annotations = [];
var layout = {
  width: 1336, height: 843,
  margin: { l: PLOT_LEFT, r: 1336 - PLOT_RIGHT, t: PLOT_TOP, b: 843 - PLOT_BOTTOM },
  paper_bgcolor: 'white', plot_bgcolor: 'white',
  font: { family: FONT, color: '#000' },
  showlegend: false,
  xaxis: {
    range: xspan(1657.9, 189, 1658.2, 1188.6),
    tickvals: depthTicks, ticktext: depthTickText,
    ticks: 'inside', ticklen: 12, tickwidth: 1.5, tickcolor: '#000',
    ticklabelstandoff: 0,
    showline: true, linecolor: '#000', linewidth: 2, mirror: 'ticks',
    showgrid: false, zeroline: false, fixedrange: true,
    tickfont: { family: FONT, size: TICK_SIZE },
    title: { text: 'Depth (m)', font: { family: FONT, size: TITLE_SIZE }, standoff: 17 }
  }
};

// grey layer bands behind the curves
layerDepths.forEach(function (d) {
  shapes.push({ type: 'rect', layer: 'below', xref: 'x', yref: 'paper',
    x0: d - 0.0018, x1: d + 0.0018, y0: 0.0158, y1: 0.9868,
    fillcolor: '#cbcbcb', line: { width: 0 } });
});
uncertainDepths.forEach(function (d) {
  shapes.push({ type: 'rect', layer: 'below', xref: 'x', yref: 'paper',
    x0: d - 0.0017, x1: d + 0.0017, y0: 0.0158, y1: 0.9868,
    fillcolor: 'rgba(0,0,0,0)', line: { color: '#c4c4c4', width: 2 } });
});

records.forEach(function (rec) {
  var key = rec.ax === 'y' ? 'yaxis' : 'yaxis' + rec.ax.slice(1);
  var axis = yAxis(rec.side, rec.r, rec.tv, rec.tt);
  if (rec.ax === 'y') { delete axis.overlaying; }
  layout[key] = axis;

  data.push({
    type: 'scatter', mode: 'lines', xaxis: 'x', yaxis: rec.ax,
    x: col(rec.d, 0), y: col(rec.d, 1),
    line: { color: rec.c, width: 2.6 }, connectgaps: false, hoverinfo: 'skip'
  });

  // bracket spanning the labelled part of the axis
  var xb = rec.side === 'left' ? 0 : 1;
  shapes.push({ type: 'line', layer: 'above', xref: 'paper', yref: rec.ax,
    x0: xb, x1: xb, y0: rec.tv[0], y1: rec.tv[rec.tv.length - 1],
    line: { color: '#333', width: 1.5 } });

  annotations.push({
    xref: 'paper', yref: rec.ax, x: rec.side === 'left' ? -0.090 : 1.080, y: rec.tc,
    text: rec.t, textangle: -90, showarrow: false, xanchor: 'center', yanchor: 'middle',
    font: { family: FONT, size: TITLE_SIZE, color: rec.c }
  });
});

layout.shapes = shapes;
layout.annotations = annotations;

Plotly.newPlot('chart', data, layout, { staticPlot: true, displayModeBar: false });
</script>
</body>
</html>
